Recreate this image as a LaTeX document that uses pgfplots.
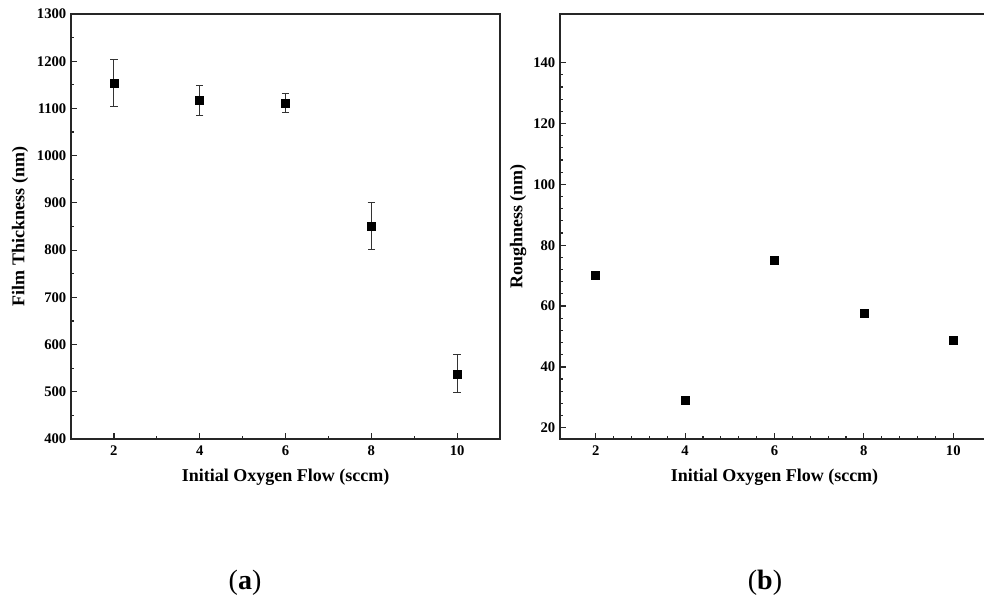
\documentclass[border=0pt]{standalone}
\usepackage{pgfplots}
\pgfplotsset{compat=1.18}
\usepackage{fontspec}
\setmainfont{Liberation Serif}
\begin{document}
\begin{tikzpicture}
\pgfplotsset{
  myaxis/.style={
    scale only axis,
    anchor=south west,
    width=321.75pt, height=318.75pt,
    axis line style={line width=0.9pt, black!85},
    tick align=inside,
    xtick pos=bottom, ytick pos=left,
    major tick length=4.5pt, minor tick length=2.5pt,
    every tick/.style={line width=0.9pt, black!85},
    /pgf/number format/assume math mode=true,
    /pgf/number format/1000 sep={},
    ticklabel style={font=\bfseries\fontsize{11}{12}\selectfont},
    xticklabel style={yshift=-1.5pt},
    label style={font=\bfseries\fontsize{13.5}{15}\selectfont},
    xlabel style={at={(axis description cs:0.5,0)}, anchor=center, yshift=-28.5pt},
    xlabel={Initial Oxygen Flow (sccm)},
    clip=false,
  }
}
\begin{axis}[myaxis,
  at={(53.25pt,121.5pt)},
  xmin=1, xmax=11, xtick={2,4,6,8,10}, minor x tick num=1,
  ymin=400, ymax=1300, ytick distance=100, minor y tick num=1,
  ylabel={Film Thickness (nm)},
  ylabel style={at={(axis description cs:0,0.5)}, anchor=center, yshift=38.25pt},
]
\addplot[only marks, mark=square*, mark size=3pt, black,
  error bars/.cd, y dir=both, y explicit,
  error bar style={line width=0.8pt, black!80},
  error mark options={rotate=90, mark size=2.8pt, line width=0.8pt, black!80}]
  table[x=x, y=y, y error=e] {
x y e
2 1154 50
4 1117 31
6 1111 20
8 851 50
10 538 40
};
\end{axis}
\begin{axis}[myaxis,
  at={(420pt,121.5pt)},
  xmin=1.2, xmax=10.8, xtick={2,4,6,8,10}, minor x tick num=4,
  ymin=16.3, ymax=156, ytick={20,40,60,80,100,120,140}, minor y tick num=4,
  ylabel={Roughness (nm)},
  ylabel style={at={(axis description cs:0,0.5)}, anchor=center, yshift=31.5pt},
]
\addplot[only marks, mark=square*, mark size=3pt, black]
  table[x=x, y=y] {
x y
2 70
4 28.9
6 75
8 57.6
10 48.7
};
\end{axis}
\node[font=\fontsize{21}{24}\selectfont] at (183.75pt,13.5pt) {(\textbf{a})};
\node[font=\fontsize{21}{24}\selectfont] at (573.75pt,13.5pt) {(\textbf{b})};
\pgfresetboundingbox
\useasboundingbox (0,0) rectangle (738pt,450.75pt);
\end{tikzpicture}
\end{document}
